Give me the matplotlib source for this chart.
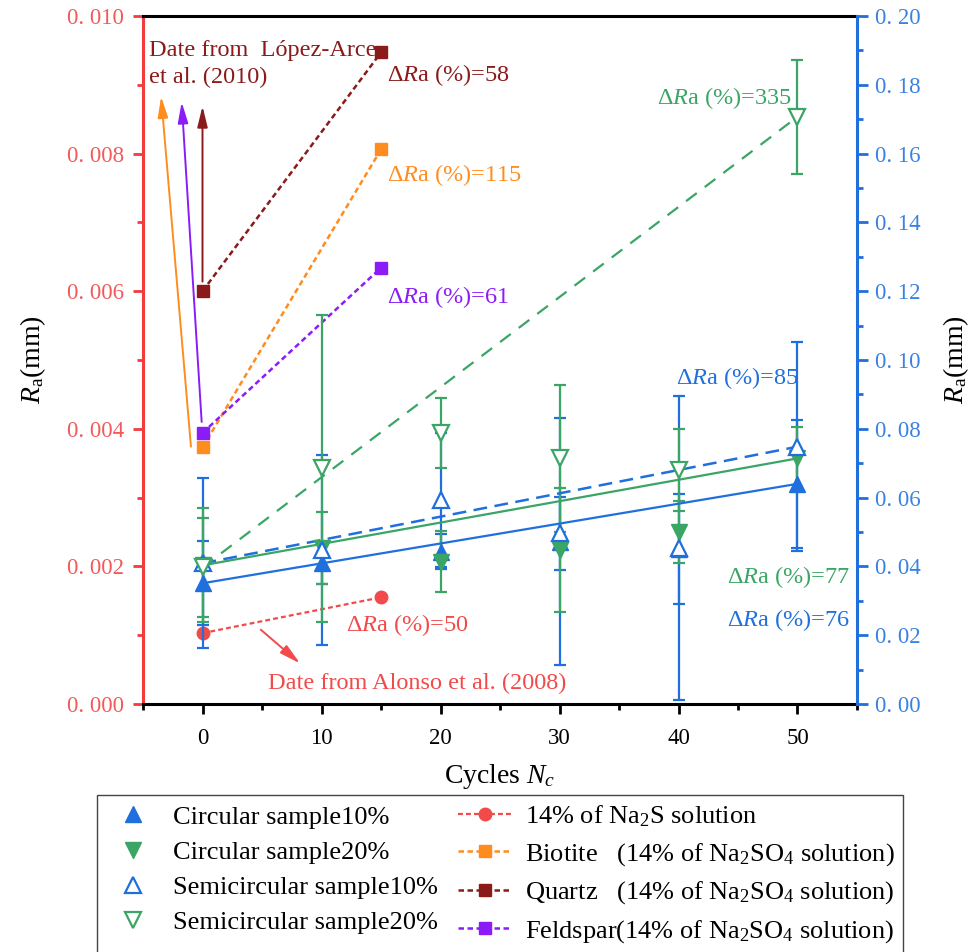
import matplotlib
matplotlib.use('Agg')
import matplotlib.pyplot as plt
from matplotlib.ticker import MultipleLocator, FixedLocator

plt.rcParams['font.family'] = ['Liberation Serif', 'DejaVu Serif']
plt.rcParams['mathtext.fontset'] = 'custom'
plt.rcParams['mathtext.rm'] = 'Liberation Serif'
plt.rcParams['mathtext.it'] = 'Liberation Serif:italic'
plt.rcParams['mathtext.bf'] = 'Liberation Serif:bold'

# ---------------- data (right axis, mm) ----------------
cycles = [0, 10, 20, 30, 40, 50]
c10 = [0.0351, 0.0409, 0.0443, 0.0472, 0.0450, 0.0640]
c10_err = [0.0122, 0.0060, 0.0050, 0.0360, 0.0160, 0.0186]
c20 = [0.0403, 0.0453, 0.0414, 0.0448, 0.0501, 0.0714]
c20_err = [0.0166, 0.0105, 0.0088, 0.0180, 0.0090, 0.0092]
s10 = [0.0409, 0.0448, 0.0593, 0.0496, 0.0453, 0.0748]
s10_err = [0.0247, 0.0276, 0.0196, 0.0107, 0.0442, 0.0303]
s20 = [0.0397, 0.0685, 0.0787, 0.0714, 0.0680, 0.1707]
s20_err = [0.0143, 0.0446, 0.0102, 0.0213, 0.0118, 0.0166]

# ---------------- literature data (left axis, mm) ----------------
lit_cycles = [0, 15]
na2s = [0.00103, 0.00155]
biotite = [0.00373, 0.00806]
quartz = [0.00600, 0.00947]
feldspar = [0.00394, 0.00634]

# ---------------- ticks ----------------
x_ticks = [0, 10, 20, 30, 40, 50]
x_tick_labels = ['0', '10', '20', '30', '40', '50']
x_minor = [-5, 5, 15, 25, 35, 45, 55]
left_ticks = [0.000, 0.002, 0.004, 0.006, 0.008, 0.010]
left_tick_labels = ['0. 000', '0. 002', '0. 004', '0. 006', '0. 008', '0. 010']
right_ticks = [0.00, 0.02, 0.04, 0.06, 0.08, 0.10, 0.12, 0.14, 0.16, 0.18, 0.20]
right_tick_labels = ['0. 00', '0. 02', '0. 04', '0. 06', '0. 08', '0. 10',
                     '0. 12', '0. 14', '0. 16', '0. 18', '0. 20']

legend_labels = ['Circular sample10%', 'Circular sample20%',
                 'Semicircular sample10%', 'Semicircular sample20%',
                 r'14% of Na$_2$S solution',
                 r'Biotite   (14% of Na$_2$SO$_4$ solution)',
                 r'Quartz   (14% of Na$_2$SO$_4$ solution)',
                 r'Feldspar(14% of Na$_2$SO$_4$ solution)']

BLUE = '#1F6FDC'
GREEN = '#3AA565'
RED = '#F24A4A'
ORANGE = '#FF8C1F'
DARKRED = '#8B1A1A'
PURPLE = '#8C1CF7'
LAX = '#F03C3C'
LLAB = '#F25A5A'
RLAB = '#3A82E2'

fig = plt.figure(figsize=(9.78, 9.52), dpi=100)
ax = fig.add_axes([143/978, 1-704/952, (857-143)/978, (704-16)/952])
ax2 = ax.twinx()

ax.set_xlim(-5, 55)
ax.set_ylim(0, 0.010)
ax2.set_ylim(0, 0.20)

# ---------- right-axis experimental series ----------
elw = 1.6
for y, e, col in [(c10, c10_err, BLUE), (s10, s10_err, BLUE),
                  (c20, c20_err, GREEN), (s20, s20_err, GREEN)]:
    ax2.errorbar(cycles, y, yerr=e, fmt='none', ecolor=col, elinewidth=elw,
                 capsize=4.3, capthick=elw, zorder=2)

ax2.plot([cycles[0], cycles[-1]], [c10[0], c10[-1]], color=BLUE, lw=1.6, zorder=3)
ax2.plot([cycles[0], cycles[-1]], [c20[0], c20[-1]], color=GREEN, lw=1.6, zorder=3)
ax2.plot([cycles[0], cycles[-1]], [s10[0], s10[-1]], color=BLUE, lw=1.8,
         ls=(0, (5.5, 3.0)), zorder=3)
ax2.plot([cycles[0], cycles[-1]], [s20[0], s20[-1]], color=GREEN, lw=1.6,
         ls=(0, (6.0, 4.5)), zorder=3)

h_c10, = ax2.plot(cycles, c10, ls='none', marker='^', ms=11, color=BLUE, zorder=5)
h_c20, = ax2.plot(cycles, c20, ls='none', marker='v', ms=11, color=GREEN, zorder=5)
h_s10, = ax2.plot(cycles, s10, ls='none', marker='^', ms=11, mfc='white',
                  mec=BLUE, mew=1.6, zorder=6)
h_s20, = ax2.plot(cycles, s20, ls='none', marker='v', ms=11, mfc='white',
                  mec=GREEN, mew=1.6, zorder=6)

# ---------- left-axis literature series ----------
dash = (0, (2.2, 1.4))
h_na, = ax.plot(lit_cycles, na2s, color=RED, ls=dash, lw=1.6, marker='o', ms=9, zorder=4)
h_bio, = ax.plot(lit_cycles, biotite, color=ORANGE, ls=dash, lw=1.8, marker='s', ms=8, zorder=4)
h_qtz, = ax.plot(lit_cycles, quartz, color=DARKRED, ls=dash, lw=1.8, marker='s', ms=8, zorder=4)
h_fel, = ax.plot(lit_cycles, feldspar, color=PURPLE, ls=dash, lw=1.8, marker='s', ms=8, zorder=4)

# ---------- annotations ----------
fs = 17.5
ax.text(-4.5, 0.00930, 'Date from  López-Arce\net al. (2010)', color=DARKRED,
        fontsize=fs, ha='left', va='center', linespacing=1.35)
ax.text(15.5, 0.00914, r'Δ$\mathit{R}$a (%)=58', color=DARKRED, fontsize=fs, va='center')
ax.text(15.5, 0.00769, r'Δ$\mathit{R}$a (%)=115', color=ORANGE, fontsize=fs, va='center')
ax.text(15.5, 0.00592, r'Δ$\mathit{R}$a (%)=61', color=PURPLE, fontsize=fs, va='center')
ax.text(12.1, 0.00115, r'Δ$\mathit{R}$a (%)=50', color=RED, fontsize=fs, va='center')
ax.text(5.5, 0.000305, 'Date from Alonso et al. (2008)', color=RED, fontsize=fs, va='center')
ax2.text(38.2, 0.1762, r'Δ$\mathit{R}$a (%)=335', color=GREEN, fontsize=fs, va='center')
ax2.text(39.8, 0.0948, r'Δ$\mathit{R}$a (%)=85', color=BLUE, fontsize=fs, va='center')
ax2.text(44.1, 0.0369, r'Δ$\mathit{R}$a (%)=77', color=GREEN, fontsize=fs, va='center')
ax2.text(44.1, 0.0244, r'Δ$\mathit{R}$a (%)=76', color=BLUE, fontsize=fs, va='center')

def arrow(x0, y0, x1, y1, col):
    ax.annotate('', xy=(x1, y1), xytext=(x0, y0),
                arrowprops=dict(arrowstyle='-|>,head_length=0.9,head_width=0.22',
                                color=col, lw=1.4, shrinkA=0, shrinkB=0,
                                mutation_scale=14), zorder=3)

arrow(-0.97, 0.00374, -3.48, 0.00883, ORANGE)
arrow(-0.07, 0.00410, -1.75, 0.00875, PURPLE)
arrow(0.0, 0.00614, 0.0, 0.00869, DARKRED)
arrow(4.9, 0.00108, 8.2, 0.00059, RED)

# ---------- axes styling ----------
ax.set_xticks(x_ticks)
ax.set_xticklabels(x_tick_labels)
ax.xaxis.set_minor_locator(FixedLocator(x_minor))
ax.tick_params(axis='x', which='major', length=7.5, width=2, direction='out',
               labelsize=16.5, pad=10, colors='black')
ax.tick_params(axis='x', which='minor', length=4, width=2, direction='out', colors='black')

ax.set_yticks(left_ticks)
ax.set_yticklabels(left_tick_labels)
ax.yaxis.set_minor_locator(MultipleLocator(0.001))
ax.tick_params(axis='y', which='major', length=7.5, width=2, direction='out',
               labelsize=16.5, pad=6, color=LAX, labelcolor=LLAB)
ax.tick_params(axis='y', which='minor', length=4, width=2, direction='out', color=LAX)

ax2.set_yticks(right_ticks)
ax2.set_yticklabels(right_tick_labels)
ax2.yaxis.set_minor_locator(MultipleLocator(0.01))
ax2.tick_params(axis='y', which='major', length=8, width=2, direction='out',
                labelsize=16.5, pad=5, color=BLUE, labelcolor=RLAB)
ax2.tick_params(axis='y', which='minor', length=4, width=2, direction='out', color=BLUE)

for sp in ['top', 'bottom']:
    ax.spines[sp].set_linewidth(2.2)
    ax.spines[sp].set_color('black')
ax.spines['left'].set_linewidth(2.2)
ax.spines['left'].set_color(LAX)
ax.spines['right'].set_visible(False)
for sp in ['top', 'bottom', 'left']:
    ax2.spines[sp].set_visible(False)
ax2.spines['right'].set_linewidth(2.2)
ax2.spines['right'].set_color(BLUE)

ax.set_xlabel(r'Cycles $N_c$', fontsize=20, labelpad=9)
ax.set_ylabel(r'$R_\mathrm{a}$(mm)', fontsize=20, labelpad=14)
ax2.set_ylabel(r'$R_\mathrm{a}$(mm)', fontsize=20, labelpad=15)

handles = [h_c10, h_c20, h_s10, h_s20, h_na, h_bio, h_qtz, h_fel]
leg = fig.legend(handles, legend_labels, loc='upper left',
                 bbox_to_anchor=(97/978, 1-795/952), ncol=2, fontsize=19,
                 frameon=True, fancybox=False, framealpha=1, edgecolor='#444444',
                 handlelength=2.05, handletextpad=0.5, columnspacing=0.75,
                 labelspacing=0.44, borderpad=0.33, borderaxespad=0)
leg.get_frame().set_linewidth(1.0)

fig.savefig('out.png', dpi=100)
